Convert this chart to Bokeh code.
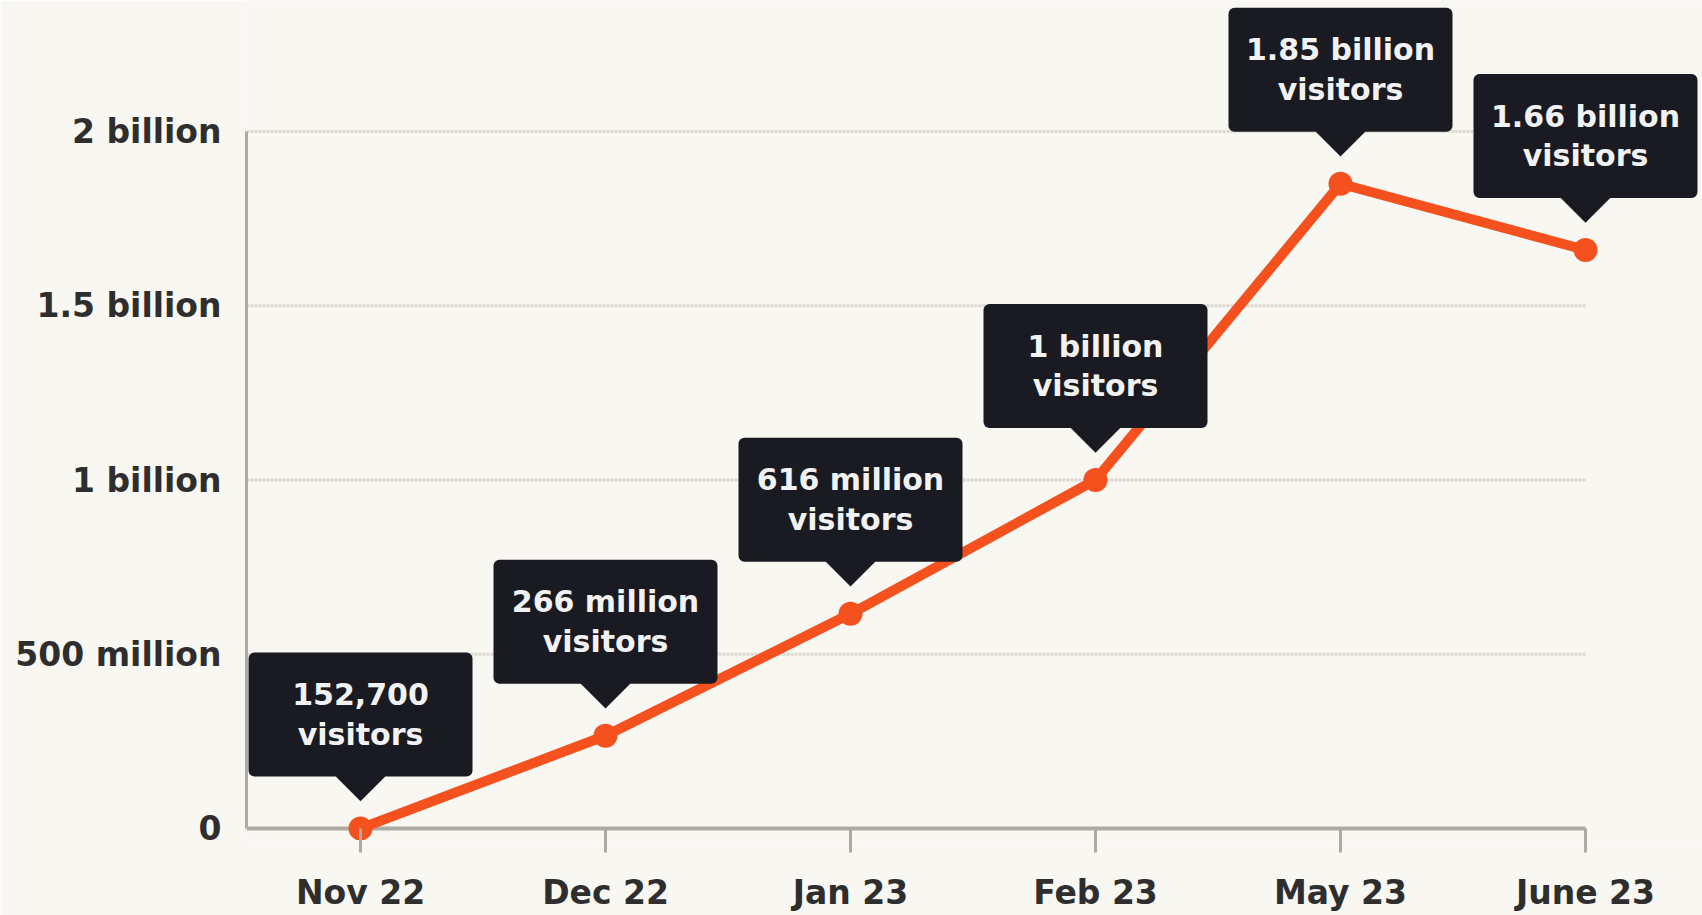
from bokeh.plotting import figure
from bokeh.models import Range1d, FixedTicker
from bokeh.core.properties import value
from bokeh.embed import file_html
from bokeh.resources import INLINE

# ---- data ----
months = ["Nov 22", "Dec 22", "Jan 23", "Feb 23", "May 23", "June 23"]
visitors = [152700, 266e6, 616e6, 1e9, 1.85e9, 1.66e9]
callouts = ["152,700\nvisitors", "266 million\nvisitors", "616 million\nvisitors",
            "1 billion\nvisitors", "1.85 billion\nvisitors", "1.66 billion\nvisitors"]
y_ticks = [0, 500e6, 1e9, 1.5e9, 2e9]
y_tick_labels = ["0", "500 million", "1 billion", "1.5 billion", "2 billion"]

# ---- style / geometry ----
BG = "#f9f7f2"
ORANGE = "#f4511e"
BOX = "#1a1b22"
AXIS = "#aeaaa3"
GRID = "#dcd8d1"
FONT = "DejaVu Sans"

W, H = 1702, 915
LEFT, BOTTOM = 246, 75
FRAME_H = H - BOTTOM          # 840
ZERO_FROM_TOP = 828           # px from frame top to y=0
PX = 2e9 / 697                # data units per pixel (vertical)
UNIT_PX = 245                 # px per category step
FRAME_W = W - LEFT
x_start = -114 / UNIT_PX
x_end = x_start + FRAME_W / UNIT_PX

xs = list(range(len(months)))

p = figure(width=W, height=H, output_backend="svg", toolbar_location=None,
           x_range=Range1d(x_start, x_end),
           y_range=Range1d(-(FRAME_H - ZERO_FROM_TOP) * PX, ZERO_FROM_TOP * PX),
           min_border_left=LEFT, min_border_right=0, min_border_top=0,
           min_border_bottom=BOTTOM)
p.background_fill_color = BG
p.border_fill_color = BG
p.outline_line_color = None
p.xgrid.visible = False
p.ygrid.visible = False

# grid lines (from tick values)
for yv in y_ticks[1:]:
    p.segment(x0=x_start, y0=yv, x1=xs[-1], y1=yv, line_color=GRID,
              line_width=3, line_dash="3 1")
# baseline at y=0
p.segment(x0=x_start, y0=y_ticks[0], x1=xs[-1], y1=y_ticks[0],
          line_color=AXIS, line_width=4)

# series
p.line(xs, visitors, line_color=ORANGE, line_width=10, line_join="round")
p.scatter(xs, visitors, size=24, fill_color=ORANGE, line_color=None)

# callouts
box_y = [v + 114 * PX for v in visitors]
tip_y = [v + 52 * PX for v in visitors]
p.scatter(xs, tip_y, marker="square", size=35, angle=0.785398,
          fill_color=BOX, line_color=None)
p.rect(xs, box_y, width=224, height=124, width_units="screen",
       height_units="screen", fill_color=BOX, line_color=None, border_radius=6)
p.text(xs, box_y, text=callouts, text_color="#f2f2f2",
       text_font=value(FONT), text_font_style="bold", text_font_size="30px",
       text_align="center", text_baseline="middle", text_line_height=1.14)

# axes
p.yaxis.ticker = FixedTicker(ticks=y_ticks)
p.yaxis.major_label_overrides = {t: l for t, l in zip(y_ticks, y_tick_labels)}
p.yaxis.bounds = (y_ticks[0], y_ticks[-1])
p.yaxis.axis_line_color = AXIS
p.yaxis.axis_line_width = 3
p.yaxis.major_tick_line_color = None
p.yaxis.minor_tick_line_color = None
p.yaxis.major_label_standoff = 19
p.yaxis.major_label_text_font = FONT
p.yaxis.major_label_text_font_style = "bold"
p.yaxis.major_label_text_font_size = "33px"
p.yaxis.major_label_text_color = "#2e2e2e"

p.xaxis.ticker = FixedTicker(ticks=xs)
p.xaxis.major_label_overrides = {i: m for i, m in zip(xs, months)}
p.xaxis.axis_line_color = None
p.xaxis.major_tick_line_color = AXIS
p.xaxis.major_tick_line_width = 3
p.xaxis.major_tick_in = FRAME_H - ZERO_FROM_TOP
p.xaxis.major_tick_out = 12
p.xaxis.minor_tick_line_color = None
p.xaxis.major_label_standoff = 20
p.xaxis.major_label_text_font = FONT
p.xaxis.major_label_text_font_style = "bold"
p.xaxis.major_label_text_font_size = "33px"
p.xaxis.major_label_text_color = "#2e2e2e"

open("out.html", "w").write(file_html(p, INLINE))
